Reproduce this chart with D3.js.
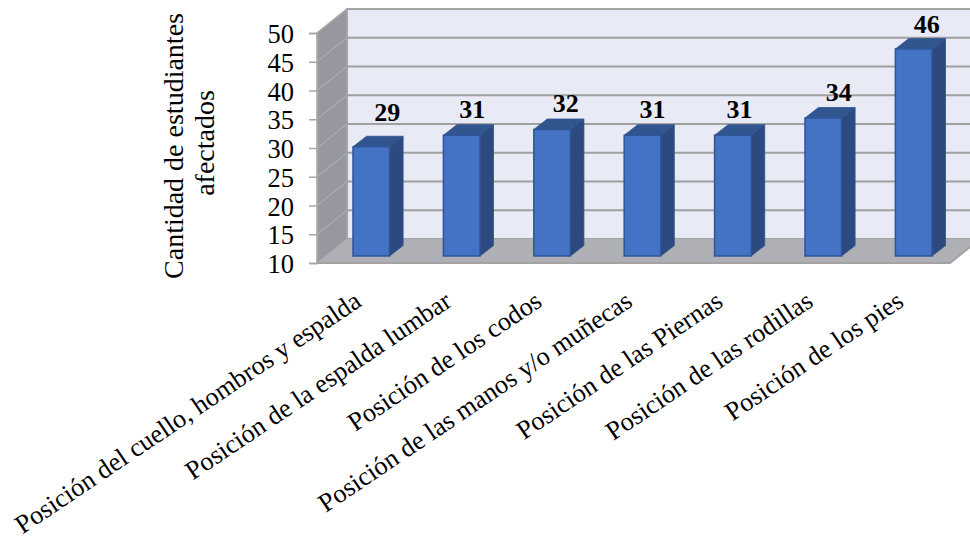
<!DOCTYPE html>
<html><head><meta charset="utf-8">
<style>html,body{margin:0;padding:0;background:#fff;overflow:hidden}text{font-family:"Liberation Serif",serif;fill:#000}</style>
<script src="https://cdn.jsdelivr.net/npm/d3@7/dist/d3.min.js"></script>
</head><body><svg id="c" width="970" height="542"></svg>
<script>
const categories=["Posición del cuello, hombros y espalda","Posición de la espalda lumbar","Posición de los codos","Posición de las manos y/o muñecas","Posición de las Piernas","Posición de las rodillas","Posición de los pies"];
const values=[29,31,32,31,31,34,46];
const yTicks=[10,15,20,25,30,35,40,45,50];
const yTitle=["Cantidad de estudiantes","afectados"];
// hand placement of the value labels, as in the source chart
const labelNudgeX=[16,10.5,13.7,10,6.7,15.5,13];
const labelNudgeY=[-26,-17,-18,-17,-17,-17,-16];

const svg=d3.select("#c");
const y=d3.scaleLinear().domain([10,50]).range([263,33]);
const x=d3.scaleBand().domain(categories).range([353,932]).paddingInner(0.595).paddingOuter(0);
const left=317,right=950,dx=30,dy=-24;
const bx=13.5,by=-10.5,barShift=-7;
const yB=v=>y(v)+barShift;

svg.append("path").attr("d",`M${left+dx},${y(10)+dy}V${y(50)+dy}H975V${y(10)+dy}Z`).attr("fill","#e8eaf6").attr("stroke","#a3a3a3").attr("stroke-width",2);
svg.append("path").attr("d",`M${left},${y(10)}V${y(50)}L${left+dx},${y(50)+dy}V${y(10)+dy}Z`).attr("fill","#97989f").attr("stroke","#a6a6a6").attr("stroke-width",1.5);
svg.append("path").attr("d",`M${left},${y(10)}H${right}L${right+dx},${y(10)+dy}H${left+dx}Z`).attr("fill","#aeb0b6");
svg.append("path").attr("d",`M${left},${y(10)}H${right}L${right+dx},${y(10)+dy}`).attr("fill","none").attr("stroke","#a3a3a3").attr("stroke-width",2);

yTicks.forEach(t=>{
  if(t>10&&t<50){
    svg.append("line").attr("x1",left+dx).attr("x2",975).attr("y1",y(t)+dy).attr("y2",y(t)+dy).attr("stroke","#a0a0a0").attr("stroke-width",2.2);
  }
  if(t>10){
    svg.append("line").attr("x1",left).attr("x2",left+dx).attr("y1",y(t)).attr("y2",y(t)+dy).attr("stroke","#aaaaaa").attr("stroke-width",1.5);
  }
});

const ax=svg.append("g").attr("transform",`translate(${left},0)`).call(d3.axisLeft(y).tickValues(yTicks).tickSize(8).tickPadding(15));
ax.select(".domain").attr("stroke","#a6a6a6").attr("stroke-width",1.5);
ax.selectAll(".tick line").attr("stroke","#a6a6a6").attr("stroke-width",1.5);
ax.selectAll(".tick text").style("font-family",'"Liberation Serif",serif').style("font-size","26.5px").attr("fill","#000").attr("dy","0.36em");

const g=svg.selectAll(".b").data(categories.map((c,i)=>({c,v:values[i],i}))).join("g");
g.append("path").attr("d",d=>{const X=x(d.c)+x.bandwidth();return `M${X},${yB(d.v)}l${bx},${by}V${yB(10)+by}l${-bx},${-by}Z`}).attr("fill","#2c4a80").attr("stroke","#2f528f").attr("stroke-width",.8);
g.append("path").attr("d",d=>{const X=x(d.c);return `M${X},${yB(d.v)}l${bx},${by}H${X+x.bandwidth()+bx}l${-bx},${-by}Z`}).attr("fill","#31568f").attr("stroke","#2f528f").attr("stroke-width",.8);
g.append("rect").attr("x",d=>x(d.c)).attr("y",d=>yB(d.v)).attr("width",x.bandwidth()).attr("height",d=>yB(10)-yB(d.v)).attr("fill","#4472c4").attr("stroke","#2f5597").attr("stroke-width",1.5);
g.append("text").attr("x",d=>x(d.c)+x.bandwidth()/2+labelNudgeX[d.i]).attr("y",d=>yB(d.v)+labelNudgeY[d.i]).attr("text-anchor","middle").attr("font-weight","bold").attr("font-size","26px").text(d=>d.v);

svg.selectAll(".l").data(categories).join("text").attr("text-anchor","end").attr("font-size","26.3px")
 .attr("transform",c=>`translate(${x(c)+x.bandwidth()/2-8.5},305) rotate(-34)`).text(c=>c);

yTitle.forEach((t,i)=>svg.append("text").attr("text-anchor","middle").attr("font-size","28px").attr("transform",`translate(${183+i*31},${146-i*3}) rotate(-90)`).text(t));
</script></body></html>
